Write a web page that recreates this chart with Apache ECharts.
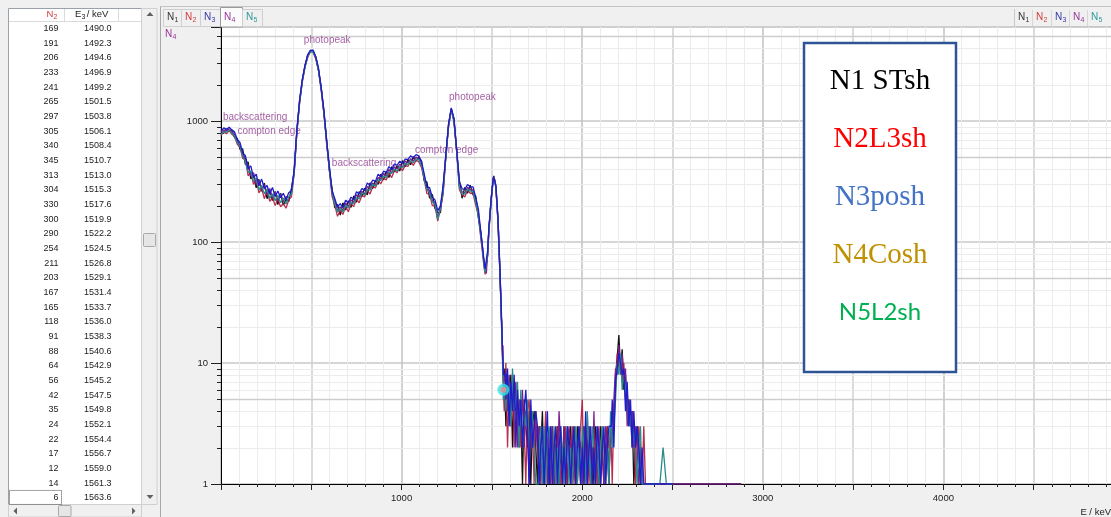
<!DOCTYPE html>
<html>
<head>
<meta charset="utf-8">
<title>Spectrum N1–N5</title>
<script src="https://cdn.jsdelivr.net/npm/echarts@6.0.0/dist/echarts.min.js"></script>
<style>
  html, body { margin: 0; padding: 0; background: #f0f0f0; overflow: hidden; }
  #chart { width: 1111px; height: 517px; }
</style>
</head>
<body>
<div id="chart"></div>
<script>
// ---------------- energy grid (keV) ----------------
const energyContinuum = [
  0,15,30,45,60,75,90,105,120,135,
  150,165,180,195,210,225,240,255,270,285,
  300,315,330,345,360,375,390,405,420,435,
  450,465,480,495,510,525,540,555,570,585,
  600,615,630,645,660,675,690,705,720,735,
  750,765,780,795,810,825,840,855,870,885,
  900,915,930,945,960,975,990,1005,1020,1035,
  1050,1065,1080,1095,1110,1125,1140,1155,1170,1185,
  1200,1215,1230,1245,1260,1275,1290,1305,1320,1335,
  1350,1365,1380,1395,1410,1425,1440
];
const energyEdge = [1448.6,1455.5,1462.4,1469.3,1476.2,1483.1];
// channels listed in the side table
const windowEnergy = [
  1490.0,1492.3,1494.6,1496.9,1499.2,1501.5,1503.8,1506.1,1508.4,1510.7,
  1513.0,1515.3,1517.6,1519.9,1522.2,1524.5,1526.8,1529.1,1531.4,1533.7,
  1536.0,1538.3,1540.6,1542.9,1545.2,1547.5,1549.8,1552.1,1554.4,1556.7,
  1559.0,1561.3,1563.6
];
const energyTail = [
  1572.8,1582.0,1591.2,1600.4,1609.6,1618.8,1628.0,1637.2,1646.4,1655.6,
  1664.8,1674.0,1683.2,1692.4,1701.6,1710.8,1720.0,1729.2,1738.4,1747.6,
  1756.8,1766.0,1775.2,1784.4,1793.6,1802.8,1812.0,1821.2,1830.4,1839.6,
  1848.8,1858.0,1867.2,1876.4,1885.6,1894.8,1904.0,1913.2,1922.4,1931.6,
  1940.8,1950.0,1959.2,1968.4,1977.6,1986.8,1996.0,2005.2,2014.4,2023.6,
  2032.8,2042.0,2051.2,2060.4,2069.6,2078.8,2088.0,2097.2,2106.4,2115.6,
  2124.8,2134.0,2143.2,2152.4,2161.6,2170.8,2180.0,2189.2,2198.4,2207.6,
  2216.8,2226.0,2235.2,2244.4,2253.6,2262.8,2272.0,2281.2,2290.4,2299.6,
  2308.8,2318.0,2327.2,2336.4,2345.6,2354.8,2364.0
];
const energyFar = [2400,2430,2448,2466,2500,2880];

// ---------------- counts per detector ----------------
const windowCountsN2 = [169,191,206,233,241,265,297,305,340,345,313,304,330,300,290,254,211,203,167,165,118,91,88,64,56,42,35,24,22,17,12,14,6];

const countsN1 = [
  790,795,860,823,836,730,718,584,589,437,
  459,333,357,280,330,262,307,228,267,220,
  262,204,254,202,224,216,278,372,828,1436,
  2172,2822,3519,3762,3780,3384,2597,1887,1156,700,
  388,276,191,205,167,211,184,219,193,240,
  213,261,239,278,245,308,277,323,299,364,
  326,384,341,419,380,426,386,471,418,481,
  435,507,468,505,467,320,314,230,248,189,
  175,175,284,504,938,1247,1040,553,321,230,
  283,253,295,246,241,158,118,
  86,70,57,58,78,127,
  172,186,212,228,250,272,290,318,334,352,330,318,310,296,282,248,222,196,172,150,126,100,82,66,52,40,32,25,19,15,11,9,7,
  9,3,7,5,8,2,6,4,5,2, 4,1,5,3,2,4,1,3,4,2, 1,3,2,4,1,3,2,1,2,3, 1,2,3,1,2,1,3,2,1,2,
  3,1,2,1,3,2,1,2,3,1, 2,3,1,2,1,3,2,1,3,2, 1,2,3,1,3,4,3,8,11,17, 9,13,6,8,4,5,3,4,1,2,
  3,2,1,1,1,1,1,
  1,1,1,1,1,1
];
const countsN2 = [
  758,820,785,832,779,745,642,609,491,479,
  353,377,299,331,255,276,228,265,217,233,
  200,227,195,208,190,223,236,365,795,1392,
  2086,2793,3347,3762,3704,3250,2624,1776,1145,646,
  400,239,202,163,182,169,196,178,206,196,
  227,211,242,236,269,249,286,280,319,303,
  336,326,371,341,388,373,416,389,427,421,
  463,430,473,461,414,330,251,250,200,199,
  149,190,248,510,892,1235,979,564,270,245,
  236,269,253,254,203,165,103,
  80,64,54,52,76,120
].concat(windowCountsN2, [
  4,10,2,7,3,8,2,6,3,5, 2,5,3,1,4,5,2,3,1,4, 2,1,3,1,2,4,1,2,3,1, 2,1,3,2,1,2,1,3,1,2,
  1,3,1,2,1,2,3,5,1,2, 3,1,2,1,3,2,1,2,1,3, 2,1,3,2,2,1,4,6,12,9, 11,7,10,5,6,3,4,2,3,1,
  2,3,2,1,3,1,1,
  1,1,1,1,1,null
]);
const countsN3 = [
  822,877,852,890,845,813,704,664,545,517,
  402,426,340,363,291,331,277,293,249,282,
  238,264,232,253,224,255,267,395,845,1479,
  2193,2879,3519,3838,3856,3384,2730,1869,1227,687,
  424,265,229,194,208,192,222,211,235,224,
  260,249,277,267,307,294,325,317,364,347,
  385,376,420,396,440,431,466,445,485,481,
  515,497,527,515,463,367,285,281,235,223,
  182,198,292,530,948,1285,1051,581,315,275,
  272,299,286,286,236,187,116,
  90,72,60,59,84,130,
  176,196,214,240,256,278,304,322,346,356,336,320,322,304,286,262,226,204,176,158,130,104,86,68,54,44,34,28,20,16,13,10,8,
  8,5,9,3,7,4,8,2,6,3, 5,2,4,6,3,1,5,2,3,4, 3,1,2,3,1,2,4,1,3,1, 2,3,1,2,3,1,2,1,3,2,
  1,2,3,1,2,3,1,2,1,4, 1,2,3,1,2,1,3,2,1,2, 3,1,2,3,3,5,2,7,9,12, 10,8,9,4,7,3,5,2,4,2,
  3,2,1,2,1,1,1,
  1,1,1,1,1,null
];
const countsN4 = [
  806,845,827,865,820,775,676,633,523,494,
  431,352,374,296,324,274,296,246,277,233,
  257,220,250,215,237,232,254,384,820,1465,
  2150,2879,3450,3838,3742,3350,2677,1850,1192,673,
  412,252,220,182,195,182,210,197,223,213,
  246,235,262,249,288,277,307,296,341,330,
  368,351,398,372,416,402,441,415,467,449,
  487,468,503,490,445,350,271,265,219,213,
  157,200,265,525,920,1273,1010,576,288,260,
  254,283,270,270,216,177,110,
  88,69,58,55,81,126,
  168,190,208,236,248,268,300,316,338,350,326,312,316,300,284,256,218,198,170,152,124,98,84,64,50,42,33,26,21,14,12,9,9,
  6,9,4,8,3,6,5,7,2,5, 3,6,2,4,3,1,4,3,2,3, 2,3,1,2,1,3,1,2,1,3, 1,2,1,4,2,1,3,1,2,3,
  2,1,3,2,1,3,2,1,3,2, 1,3,2,1,4,1,2,3,1,2, 1,3,2,1,3,2,5,9,8,14, 8,12,7,9,3,5,3,4,2,3,
  2,1,2,1,1,1,1,
  1,1,1,1,1,1
];
const countsN5 = [
  774,812,810,840,795,752,662,621,512,465,
  377,385,316,337,270,294,250,275,229,250,
  219,244,211,231,206,237,249,376,804,1421,
  2129,2793,3416,3724,3742,3317,2597,1832,1168,666,
  396,257,208,177,190,177,200,191,212,207,
  232,227,255,244,272,269,298,290,325,323,
  350,340,379,369,400,385,420,410,449,435,
  468,454,483,480,432,337,271,255,214,207,
  153,190,259,515,902,1247,1000,564,285,248,
  249,272,264,262,212,168,108,
  84,66,56,57,79,122,
  170,188,210,230,252,270,294,312,340,348,328,316,318,294,280,250,216,200,168,156,122,96,80,62,52,40,31,24,18,15,10,8,5,
  7,4,8,6,3,9,4,5,7,2, 6,2,4,3,5,2,3,4,2,1, 1,2,3,1,3,1,2,3,2,1, 3,1,2,1,3,2,1,2,3,1,
  2,1,2,3,1,2,1,3,2,1, 4,2,1,3,2,1,3,1,2,3, 2,1,2,1,4,2,3,5,10,8, 12,6,8,6,5,3,4,2,3,2,
  1,2,3,1,1,1,1,
  1,1,2,1,1,null
];

const seriesNames = ['N1', 'N2', 'N3', 'N4', 'N5'];
const sampleNames = ['N1 STsh', 'N2L3sh', 'N3posh', 'N4Cosh', 'N5L2sh'];

// peak / edge annotations: text and anchor (energy keV, counts)
const noteText = ['photopeak', 'backscattering', 'compton edge', 'backscattering', 'compton edge', 'photopeak'];
const noteEnergy = [456, 8, 88, 611, 1071, 1260];
const noteCounts = [4670, 1079, 827, 450, 575, 1559];

// decade subdivisions of the count axis
const yMinorTicks = [2,3,4,5,6,7,8,9,20,30,40,50,60,70,80,90,200,300,400,500,600,700,800,900,2000,3000,4000,5000];

// ---------------- assembly ----------------
const energyKeV = [].concat(energyContinuum, energyEdge, windowEnergy, energyTail, energyFar);
const countsBySeries = [countsN1, countsN2, countsN3, countsN4, countsN5];
// index ranges: smooth part, sparse tail (drawn as histogram steps), far end
const iWindowEnd = energyContinuum.length + energyEdge.length + windowEnergy.length - 1;
const iTailEnd = iWindowEnd + energyTail.length;
const segments = [
  { from: 0, to: iWindowEnd, step: false },
  { from: iWindowEnd, to: iTailEnd, step: 'middle' },
  { from: iTailEnd, to: energyKeV.length - 1, step: false }
];

const lineColors = ['#111111', '#b3163c', '#1d1dcc', '#7c1f8e', '#2a8b8b'];
const tabColors = ['#333333', '#d43a3a', '#3434aa', '#993399', '#2f9898'];
const sampleColors = ['#000000', '#ff0000', '#4472c4', '#bf9000', '#00b050'];
const drawOrder = [0, 1, 3, 4, 2];

const SANS = '"Liberation Sans", Arial, sans-serif';

function txt(x, y, text, size, color, align, z, family) {
  return {
    type: 'text', x: x, y: y, z: z || 50, silent: true,
    style: {
      text: text, fill: color,
      font: size + 'px ' + (family || SANS),
      align: align || 'left', textAlign: align || 'left',
      verticalAlign: 'middle', textVerticalAlign: 'middle'
    }
  };
}
function subLabel(x, y, base, sub, size, color, z) {
  const w = size * (base === 'E' ? 0.667 : 0.722);
  return [
    txt(x, y, base, size, color, 'left', z),
    txt(x + w + 0.2, y + size * 0.3, sub, Math.round(size * 0.72), color, 'left', z)
  ];
}
function box(x, y, w, h, fill, stroke, z, lw) {
  return {
    type: 'rect', z: z || 40, silent: true,
    shape: { x: x, y: y, width: w, height: h },
    style: { fill: fill, stroke: stroke || null, lineWidth: lw || 1 }
  };
}
function tri(points, z) {
  return { type: 'polygon', z: z || 45, silent: true, shape: { points: points }, style: { fill: '#606060' } };
}

const graphics = [];

// ---- side table ----
graphics.push(box(8.5, 8.5, 133, 496, '#ffffff', '#9aa1aa', 40));
graphics.push({ type: 'line', z: 41, silent: true, shape: { x1: 9, y1: 21.5, x2: 141, y2: 21.5 }, style: { stroke: '#dadada' } });
graphics.push({ type: 'line', z: 41, silent: true, shape: { x1: 64.5, y1: 9, x2: 64.5, y2: 21 }, style: { stroke: '#dadada' } });
graphics.push({ type: 'line', z: 41, silent: true, shape: { x1: 118.5, y1: 9, x2: 118.5, y2: 21 }, style: { stroke: '#dadada' } });
graphics.push.apply(graphics, subLabel(46.5, 14, 'N', '2', 9.5, '#d43a3a', 42));
graphics.push.apply(graphics, subLabel(75, 14, 'E', '3', 9.5, '#222', 42));
graphics.push(txt(84, 14, ' / keV', 9.5, '#222', 'left', 42));
const rowY = i => 28.5 + 14.67 * i;
windowCountsN2.forEach((c, i) => {
  graphics.push(txt(58.5, rowY(i), String(c), 9, '#222', 'right', 42));
  graphics.push(txt(111.5, rowY(i), windowEnergy[i].toFixed(1), 9, '#222', 'right', 42));
});
const lastRow = windowCountsN2.length - 1;
graphics.push({
  type: 'rect', z: 43, silent: true,
  shape: { x: 9.5, y: rowY(lastRow) - 7.5, width: 52, height: 14 },
  style: { fill: null, stroke: '#444', lineWidth: 1, lineDash: [1, 1] }
});
// vertical scrollbar
graphics.push(box(141.5, 8.5, 15.5, 496, '#f0f0f0', '#d0d0d0', 41));
graphics.push(tri([[146.5, 16], [153.5, 16], [150, 12]], 45));
graphics.push(tri([[146.5, 495], [153.5, 495], [150, 499]], 45));
graphics.push({ type: 'rect', z: 44, silent: true, shape: { x: 143.5, y: 233.5, width: 12, height: 13, r: 1 }, style: { fill: '#e6e6e6', stroke: '#a8a8a8' } });
// horizontal scrollbar
graphics.push(box(8.5, 504.5, 133, 12.5, '#f0f0f0', '#d0d0d0', 41));
graphics.push(tri([[17, 507.5], [17, 514.5], [13.5, 511]], 45));
graphics.push(tri([[132, 507.5], [132, 514.5], [135.5, 511]], 45));
graphics.push({ type: 'rect', z: 44, silent: true, shape: { x: 58.5, y: 505.5, width: 12.5, height: 11, r: 1 }, style: { fill: '#e6e6e6', stroke: '#a8a8a8' } });

// ---- chart panel frame and tabs ----
graphics.push({ type: 'line', z: 41, silent: true, shape: { x1: 160.5, y1: 6, x2: 160.5, y2: 517 }, style: { stroke: '#a8a8a8' } });
graphics.push({ type: 'line', z: 41, silent: true, shape: { x1: 160, y1: 6.5, x2: 1111, y2: 6.5 }, style: { stroke: '#c4c4c4' } });
const tabX = [163, 181, 200, 220, 242];
const tabW = [18, 19, 20, 22, 20];
const activeTab = 3;
seriesNames.forEach((n, i) => {
  const act = i === activeTab;
  graphics.push(box(tabX[i] + 0.5, act ? 7.5 : 9.5, tabW[i], act ? 19.5 : 17, act ? '#fbfbfb' : '#f0f0f0', act ? '#9a9a9a' : '#cfcfcf', 42));
  graphics.push.apply(graphics, subLabel(tabX[i] + 4, 17, n.charAt(0), n.charAt(1), 10, tabColors[i], 44));
});
const rTabX = [1015, 1033, 1052, 1070, 1088];
graphics.push({ type: 'line', z: 41, silent: true, shape: { x1: 1014.5, y1: 9, x2: 1014.5, y2: 26 }, style: { stroke: '#c8c8c8' } });
graphics.push({ type: 'line', z: 41, silent: true, shape: { x1: 1014.5, y1: 26.5, x2: 1111, y2: 26.5 }, style: { stroke: '#c8c8c8' } });
seriesNames.forEach((n, i) => {
  if (i > 0) graphics.push({ type: 'line', z: 41, silent: true, shape: { x1: rTabX[i] - 0.5, y1: 10, x2: rTabX[i] - 0.5, y2: 26 }, style: { stroke: '#d8d8d8' } });
  graphics.push.apply(graphics, subLabel(rTabX[i] + 3, 17, n.charAt(0), n.charAt(1), 10, tabColors[i], 44));
});
// active channel tag beside the count axis
graphics.push.apply(graphics, subLabel(165, 34, 'N', '4', 10, '#993399', 44));
// energy axis title
graphics.push(txt(1111, 512, 'E / keV', 9.5, '#222', 'right', 44));

// ---- sample key ----
graphics.push(box(804, 43, 152, 329, '#ffffff', '#2f5496', 60, 2.5));
const keyY = [81, 139, 197, 255, 312];
sampleNames.forEach((s, i) => {
  const fam = i === 4 ? 'Lato, "Open Sans", sans-serif' : '"Liberation Serif", "Times New Roman", serif';
  graphics.push(txt(880, keyY[i], s, i === 4 ? 24 : 29, sampleColors[i], 'center', 62, fam));
});

// ---------------- series ----------------
const series = [];
series.push({
  type: 'custom', name: 'yMinor', silent: true, z: 1, clip: false,
  data: yMinorTicks.map(v => [0, v]),
  renderItem: function (params, api) {
    const v = api.value(1);
    const p = api.coord([0, v]);
    const cs = params.coordSys;
    const y = Math.round(p[1]) + 0.5;
    const lead = v / Math.pow(10, Math.floor(Math.log10(v) + 1e-9));
    const mid = Math.abs(lead - 5) < 1e-6;
    return {
      type: 'group',
      children: [
        { type: 'line', shape: { x1: cs.x + 1, y1: y, x2: cs.x + cs.width, y2: y }, style: { stroke: mid ? '#cdcdcd' : '#ececec', lineWidth: mid ? 1.5 : 1 } },
        { type: 'line', shape: { x1: cs.x - 4, y1: y, x2: cs.x, y2: y }, style: { stroke: '#222', lineWidth: 1 } }
      ]
    };
  }
});
series.push({
  type: 'scatter', name: 'notes', silent: true, z: 1,
  symbolSize: 1, itemStyle: { color: 'transparent' },
  data: noteText.map((t, i) => ({ name: t, value: [noteEnergy[i], noteCounts[i]] })),
  label: { show: true, position: 'right', distance: 0, formatter: p => p.name, color: '#8e3a8e', fontSize: 10, fontFamily: SANS }
});
drawOrder.forEach((k, order) => {
  segments.forEach(seg => {
    const pts = [];
    for (let i = seg.from; i <= seg.to; i++) pts.push([energyKeV[i], countsBySeries[k][i]]);
    series.push({
      type: 'line', name: seriesNames[k], z: 3 + order,
      showSymbol: false, symbol: 'none', connectNulls: false, step: seg.step,
      lineStyle: { color: lineColors[k], width: 1.3, opacity: k === 1 ? 0.9 : 1 },
      data: pts
    });
  });
});
// cursor on the selected table row
series.push({
  type: 'scatter', name: 'cursor', silent: true, z: 20,
  symbol: 'circle', symbolSize: 12, itemStyle: { color: '#38dfe8' },
  data: [[windowEnergy[lastRow], windowCountsN2[lastRow]]]
});
series.push({
  type: 'scatter', name: 'cursorDot', silent: true, z: 21,
  symbol: 'circle', symbolSize: 6, itemStyle: { color: '#ec8c8c' },
  data: [[windowEnergy[lastRow], windowCountsN2[lastRow]]]
});

const isDecade = v => { const lg = Math.log10(v); return Math.abs(lg - Math.round(lg)) < 1e-6; };

const chart = echarts.init(document.getElementById('chart'), null, { renderer: 'canvas' });
chart.setOption({
  animation: false,
  backgroundColor: '#f0f0f0',
  grid: {
    left: 221, right: -13, top: 27, bottom: 33,
    show: true, backgroundColor: '#ffffff', borderColor: '#cacaca', borderWidth: 1,
    containLabel: false, outerBoundsMode: 'none'
  },
  xAxis: {
    type: 'value', min: 0, max: 5000, interval: 500,
    axisLine: { show: true, onZero: false, lineStyle: { color: '#000', width: 1 } },
    axisTick: { show: true, length: 6, lineStyle: { color: '#222' } },
    minorTick: { show: true, splitNumber: 5, length: 3, lineStyle: { color: '#222' } },
    axisLabel: { formatter: v => (v > 0 && v < 5000 && v % 1000 === 0) ? String(v) : '', color: '#222', fontSize: 9.5, fontFamily: SANS, margin: 9 },
    splitLine: { show: true, lineStyle: { color: ['#c2c2c2', '#cfcfcf'], width: 1.5 } },
    minorSplitLine: { show: true, lineStyle: { color: '#ececec', width: 1 } }
  },
  yAxis: {
    type: 'log', logBase: 10, min: 1, max: 5984,
    axisLine: { show: true, lineStyle: { color: '#000', width: 1 } },
    axisTick: { show: true, length: 10, lineStyle: { color: '#222' } },
    axisLabel: { formatter: v => isDecade(v) ? String(Math.round(v)) : '', color: '#222', fontSize: 9.5, fontFamily: SANS, margin: 13 },
    splitLine: { show: true, lineStyle: { color: '#c8c8c8', width: 1.5 } }
  },
  graphic: { elements: graphics },
  series: series
});
</script>
</body>
</html>
